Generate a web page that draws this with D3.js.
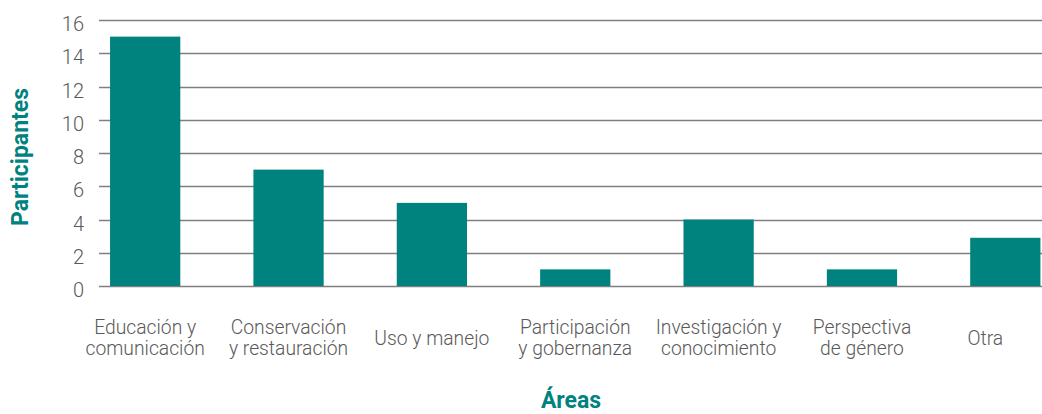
<!DOCTYPE html>
<html lang="en">
<head>
    <meta charset="UTF-8">
    <title>Participantes por área</title>
    <script src="https://d3js.org/d3.v7.min.js"></script>
    <style>
        body { margin: 0; background: #fff; }
        svg { display: block; font-family: Roboto, "Liberation Sans", sans-serif; }
        .tick-label { font-size: 20px; font-weight: 300; fill: #595959; }
        .cat-label { font-size: 19.3px; font-weight: 300; fill: #595959; }
        .axis-title { font-size: 23px; font-weight: bold; fill: #00827f; }
    </style>
</head>
<body>
<svg width="1042" height="414"></svg>
<script>
// categories (line-broken as in the chart) and counts
const areas = [
    ["Educación y", "comunicación"],
    ["Conservación", "y restauración"],
    ["Uso y manejo"],
    ["Participación", "y gobernanza"],
    ["Investigación y", "conocimiento"],
    ["Perspectiva", "de género"],
    ["Otra"]
];
const participantes = [15, 7, 5, 1, 4, 1, 2.9];
const yTicks = [0, 2, 4, 6, 8, 10, 12, 14, 16];

const teal = "#00827f";
const svg = d3.select("svg");

const x = d3.scaleBand()
    .domain(d3.range(areas.length))
    .range([73.5, 1077])
    .paddingInner(0.51)
    .paddingOuter(0.255);

const y = d3.scaleLinear().domain([0, 16]).range([286, 20]);

// gridlines
svg.append("g")
    .selectAll("line")
    .data(yTicks)
    .join("line")
    .attr("x1", 99)
    .attr("x2", 1042)
    .attr("y1", d => Math.round(y(d)) + 0.5)
    .attr("y2", d => Math.round(y(d)) + 0.5)
    .attr("stroke", "#7f7f7f")
    .attr("stroke-width", 1.3);

// y tick labels
svg.append("g")
    .selectAll("text")
    .data(yTicks)
    .join("text")
    .attr("class", "tick-label")
    .attr("x", 84)
    .attr("y", d => y(d) + 11)
    .attr("text-anchor", "end")
    .text(d => d);

// bars
svg.append("g")
    .selectAll("rect")
    .data(participantes)
    .join("rect")
    .attr("x", (d, i) => x(i))
    .attr("width", x.bandwidth())
    .attr("y", d => y(d))
    .attr("height", d => y(0) - y(d))
    .attr("fill", teal);

// category labels
const labels = svg.append("g")
    .selectAll("text")
    .data(areas)
    .join("text")
    .attr("class", "cat-label")
    .attr("text-anchor", "middle")
    .attr("transform", (d, i) => {
        let cx = x(i) + x.bandwidth() / 2;
        if (i === areas.length - 1) cx -= 20;
        const top = d.length === 1 ? 345 : 334;
        return `translate(${cx},${top})`;
    });

labels.selectAll("tspan")
    .data(d => d)
    .join("tspan")
    .attr("x", 0)
    .attr("y", (d, i) => i * 21)
    .text(d => d);

// axis titles
svg.append("text")
    .attr("class", "axis-title")
    .attr("transform", "translate(28,157) rotate(-90)")
    .attr("text-anchor", "middle")
    .text("Participantes");

svg.append("text")
    .attr("class", "axis-title")
    .attr("x", 571)
    .attr("y", 408)
    .attr("text-anchor", "middle")
    .text("Áreas");
</script>
</body>
</html>
